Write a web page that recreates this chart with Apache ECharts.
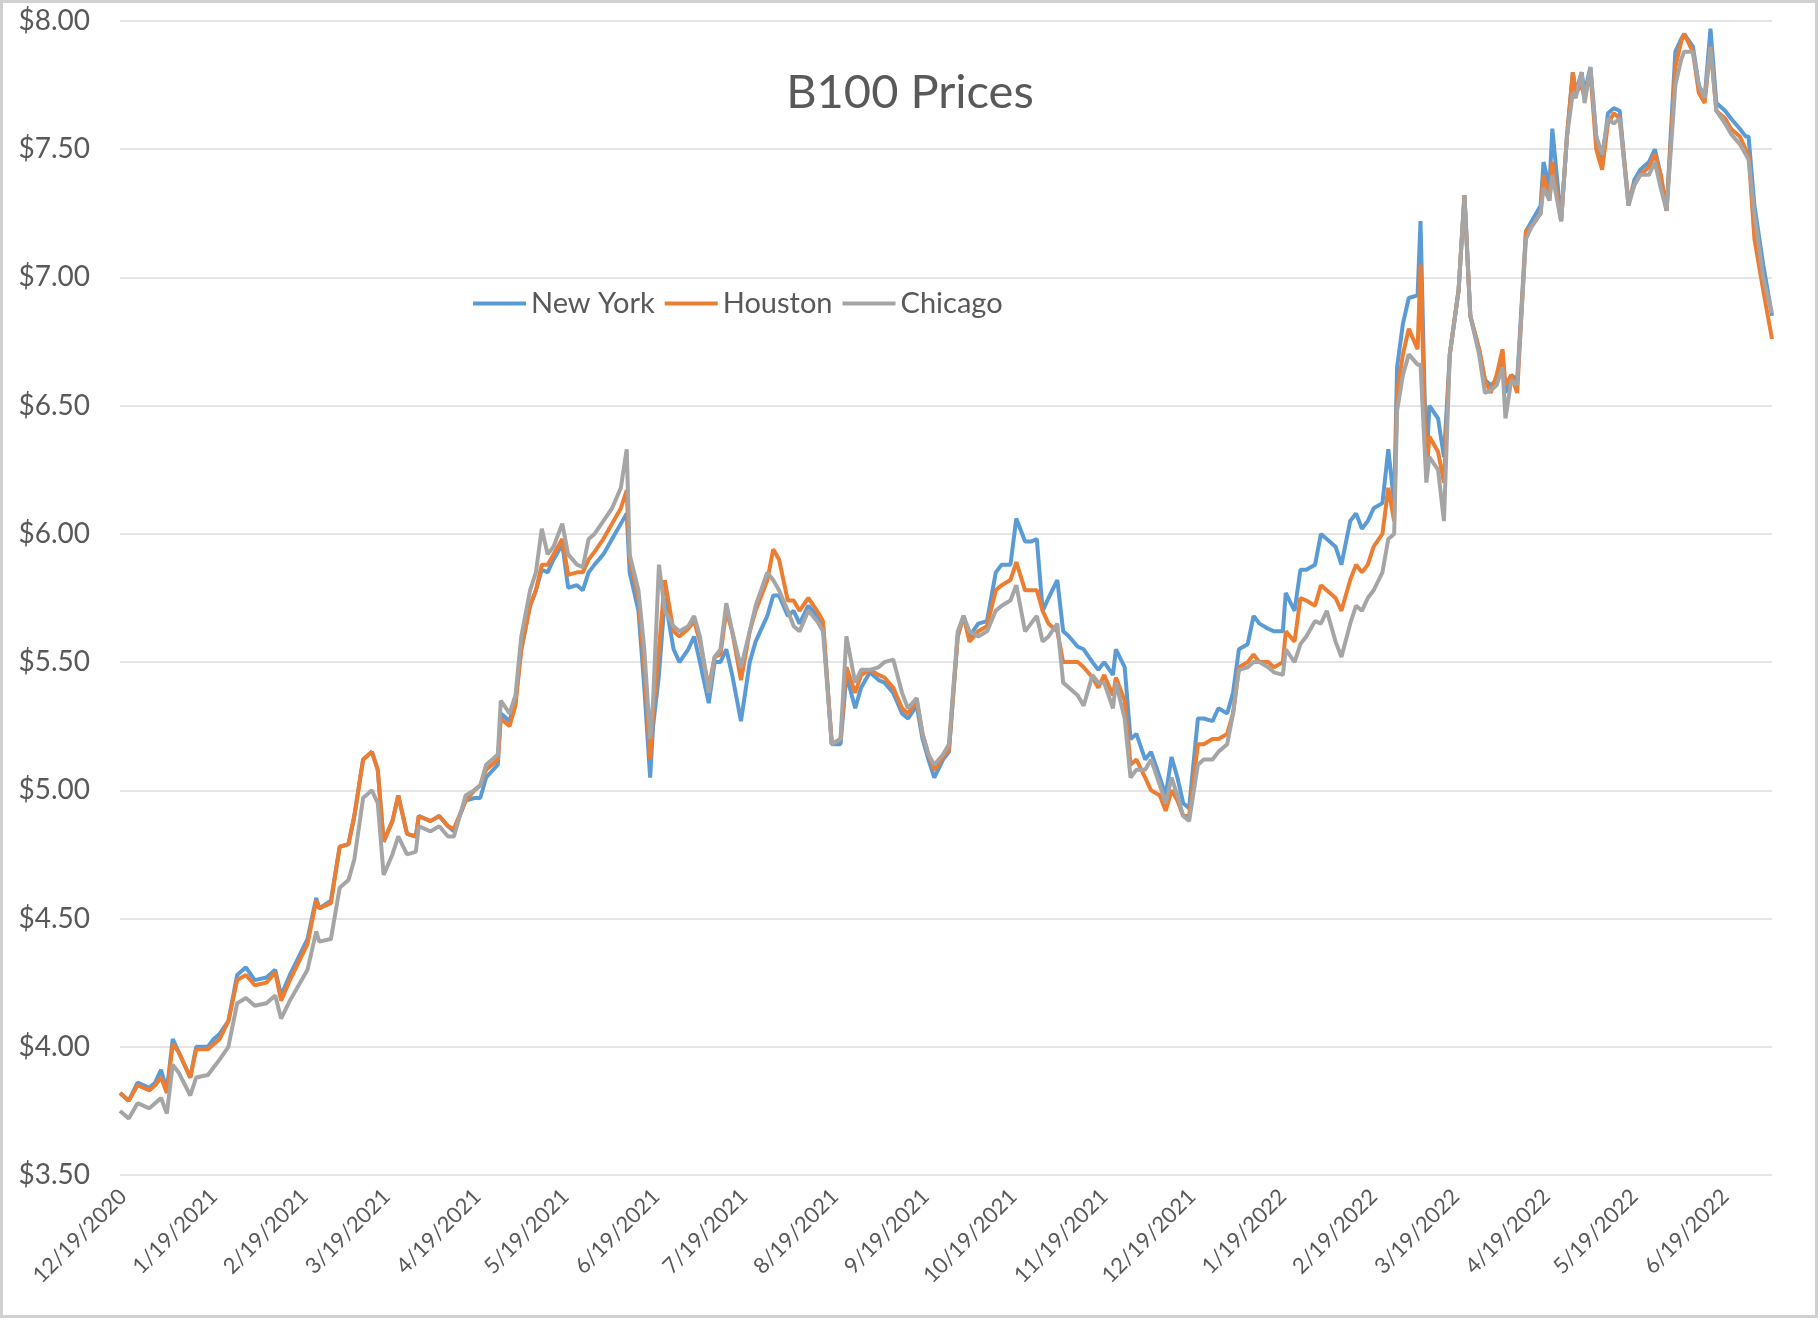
<!DOCTYPE html>
<html>
<head>
<meta charset="utf-8">
<title>B100 Prices</title>
<script src="https://cdn.jsdelivr.net/npm/echarts@6/dist/echarts.min.js"></script>
<style>
  html, body { margin: 0; padding: 0; background: #fff; }
  #chart { width: 1820px; height: 1320px; }
</style>
</head>
<body>
<div id="chart"></div>
<script>
// B100 price data ($/gal)
var dates = [
  '2020-12-18','2020-12-21','2020-12-24','2020-12-28','2020-12-30','2021-01-01','2021-01-03','2021-01-05','2021-01-07','2021-01-11',
  '2021-01-13','2021-01-17','2021-01-19','2021-01-21','2021-01-24','2021-01-27','2021-01-30','2021-02-02','2021-02-06','2021-02-09',
  '2021-02-11','2021-02-14','2021-02-17','2021-02-20','2021-02-23','2021-02-24','2021-02-28','2021-03-03','2021-03-06','2021-03-08',
  '2021-03-11','2021-03-14','2021-03-16','2021-03-18','2021-03-21','2021-03-23','2021-03-26','2021-03-29','2021-03-30','2021-04-03',
  '2021-04-06','2021-04-09','2021-04-11','2021-04-15','2021-04-18','2021-04-20','2021-04-22','2021-04-26','2021-04-27','2021-04-30',
  '2021-05-02','2021-05-04','2021-05-07','2021-05-09','2021-05-11','2021-05-13','2021-05-15','2021-05-18','2021-05-20','2021-05-23',
  '2021-05-25','2021-05-27','2021-05-29','2021-06-01','2021-06-04','2021-06-07','2021-06-09','2021-06-10','2021-06-13','2021-06-15',
  '2021-06-17','2021-06-18','2021-06-20','2021-06-22','2021-06-25','2021-06-27','2021-06-30','2021-07-02','2021-07-04','2021-07-07',
  '2021-07-09','2021-07-11','2021-07-13','2021-07-15','2021-07-18','2021-07-21','2021-07-23','2021-07-27','2021-07-29','2021-07-31',
  '2021-08-03','2021-08-05','2021-08-07','2021-08-10','2021-08-13','2021-08-15','2021-08-18','2021-08-21','2021-08-23','2021-08-26',
  '2021-08-28','2021-08-31','2021-09-03','2021-09-05','2021-09-08','2021-09-11','2021-09-13','2021-09-16','2021-09-18','2021-09-20',
  '2021-09-22','2021-09-25','2021-09-27','2021-09-30','2021-10-02','2021-10-04','2021-10-07','2021-10-10','2021-10-13','2021-10-15',
  '2021-10-18','2021-10-20','2021-10-23','2021-10-25','2021-10-27','2021-10-29','2021-10-31','2021-11-03','2021-11-05','2021-11-07',
  '2021-11-10','2021-11-12','2021-11-15','2021-11-17','2021-11-19','2021-11-22','2021-11-23','2021-11-26','2021-11-28','2021-11-30',
  '2021-12-03','2021-12-05','2021-12-08','2021-12-10','2021-12-12','2021-12-14','2021-12-16','2021-12-18','2021-12-21','2021-12-23',
  '2021-12-26','2021-12-28','2021-12-31','2022-01-02','2022-01-04','2022-01-07','2022-01-09','2022-01-11','2022-01-14','2022-01-16',
  '2022-01-19','2022-01-20','2022-01-23','2022-01-25','2022-01-27','2022-01-30','2022-02-01','2022-02-03','2022-02-06','2022-02-08',
  '2022-02-11','2022-02-13','2022-02-15','2022-02-17','2022-02-19','2022-02-22','2022-02-24','2022-02-26','2022-02-27','2022-03-01',
  '2022-03-03','2022-03-06','2022-03-07','2022-03-09','2022-03-10','2022-03-13','2022-03-15','2022-03-17','2022-03-20','2022-03-22',
  '2022-03-24','2022-03-27','2022-03-29','2022-03-31','2022-04-02','2022-04-04','2022-04-05','2022-04-07','2022-04-09','2022-04-12',
  '2022-04-14','2022-04-17','2022-04-18','2022-04-20','2022-04-21','2022-04-24','2022-04-26','2022-04-28','2022-04-29','2022-05-01',
  '2022-05-02','2022-05-04','2022-05-06','2022-05-08','2022-05-10','2022-05-12','2022-05-14','2022-05-17','2022-05-19','2022-05-21',
  '2022-05-24','2022-05-26','2022-05-28','2022-05-30','2022-06-02','2022-06-04','2022-06-05','2022-06-08','2022-06-10','2022-06-12',
  '2022-06-14','2022-06-16','2022-06-19','2022-06-21','2022-06-24','2022-06-26','2022-06-27','2022-06-29','2022-07-02','2022-07-05'
];

var newYork = [
  3.82,3.79,3.86,3.84,3.86,3.91,3.83,4.03,3.98,3.88,
  4.00,4.00,4.03,4.05,4.10,4.28,4.31,4.26,4.27,4.30,
  4.20,4.28,4.35,4.42,4.58,4.54,4.57,4.78,4.79,4.90,
  5.12,5.15,5.08,4.80,4.88,4.98,4.83,4.82,4.90,4.88,
  4.90,4.86,4.84,4.96,4.97,4.97,5.05,5.10,5.30,5.27,
  5.35,5.55,5.72,5.78,5.86,5.85,5.90,5.96,5.79,5.80,
  5.78,5.85,5.88,5.92,5.98,6.04,6.08,5.85,5.70,5.40,
  5.05,5.25,5.45,5.75,5.55,5.50,5.55,5.60,5.50,5.34,
  5.50,5.50,5.55,5.45,5.27,5.50,5.58,5.68,5.76,5.76,
  5.68,5.70,5.65,5.72,5.68,5.65,5.18,5.18,5.45,5.32,
  5.40,5.46,5.43,5.42,5.38,5.30,5.28,5.33,5.20,5.12,
  5.05,5.12,5.15,5.60,5.68,5.60,5.65,5.66,5.85,5.88,
  5.88,6.06,5.97,5.97,5.98,5.70,5.75,5.82,5.62,5.60,
  5.56,5.55,5.50,5.47,5.50,5.45,5.55,5.48,5.20,5.22,
  5.12,5.15,5.05,4.98,5.13,5.05,4.95,4.93,5.28,5.28,
  5.27,5.32,5.30,5.38,5.55,5.57,5.68,5.65,5.63,5.62,
  5.62,5.77,5.70,5.86,5.86,5.88,6.00,5.98,5.95,5.88,
  6.05,6.08,6.02,6.05,6.10,6.12,6.33,6.12,6.65,6.82,
  6.92,6.93,7.22,6.25,6.50,6.45,6.30,6.70,6.95,7.32,
  6.85,6.72,6.60,6.58,6.60,6.68,6.55,6.62,6.60,7.18,
  7.22,7.28,7.45,7.35,7.58,7.22,7.55,7.80,7.72,7.80,
  7.72,7.82,7.55,7.45,7.64,7.66,7.65,7.28,7.38,7.42,
  7.45,7.50,7.40,7.26,7.88,7.93,7.95,7.90,7.75,7.70,
  7.97,7.68,7.65,7.62,7.58,7.55,7.55,7.28,7.05,6.85
];

var houston = [
  3.82,3.79,3.85,3.83,3.85,3.88,3.82,4.01,3.98,3.88,
  3.99,3.99,4.01,4.03,4.10,4.26,4.28,4.24,4.25,4.29,
  4.18,4.26,4.33,4.40,4.57,4.54,4.56,4.78,4.79,4.90,
  5.12,5.15,5.08,4.80,4.88,4.98,4.83,4.82,4.90,4.88,
  4.90,4.86,4.85,4.96,5.00,5.02,5.08,5.12,5.28,5.25,
  5.33,5.55,5.72,5.78,5.88,5.88,5.92,5.98,5.84,5.85,
  5.85,5.90,5.93,5.98,6.04,6.10,6.17,5.90,5.75,5.48,
  5.12,5.30,5.55,5.82,5.62,5.60,5.63,5.66,5.58,5.40,
  5.52,5.53,5.70,5.62,5.43,5.62,5.70,5.82,5.94,5.90,
  5.74,5.74,5.70,5.75,5.70,5.66,5.18,5.20,5.48,5.38,
  5.45,5.47,5.45,5.44,5.40,5.32,5.30,5.35,5.22,5.14,
  5.08,5.13,5.16,5.60,5.68,5.58,5.62,5.64,5.78,5.80,
  5.82,5.89,5.78,5.78,5.78,5.70,5.65,5.62,5.50,5.50,
  5.50,5.48,5.44,5.40,5.45,5.37,5.44,5.35,5.10,5.12,
  5.05,5.00,4.98,4.92,5.00,4.96,4.90,4.90,5.18,5.18,
  5.20,5.20,5.22,5.30,5.48,5.50,5.53,5.50,5.50,5.48,
  5.50,5.62,5.58,5.75,5.74,5.72,5.80,5.78,5.75,5.70,
  5.82,5.88,5.85,5.88,5.95,6.00,6.18,6.05,6.55,6.70,
  6.80,6.72,7.05,6.22,6.38,6.32,6.20,6.70,6.95,7.32,
  6.85,6.72,6.60,6.55,6.62,6.72,6.58,6.62,6.55,7.18,
  7.20,7.25,7.40,7.30,7.45,7.22,7.55,7.80,7.72,7.75,
  7.70,7.80,7.50,7.42,7.60,7.64,7.62,7.30,7.36,7.40,
  7.43,7.48,7.40,7.26,7.82,7.92,7.95,7.88,7.72,7.68,
  7.90,7.65,7.62,7.58,7.55,7.50,7.48,7.15,6.95,6.76
];

var chicago = [
  3.75,3.72,3.78,3.76,3.78,3.80,3.74,3.93,3.90,3.81,
  3.88,3.89,3.92,3.95,4.00,4.17,4.19,4.16,4.17,4.20,
  4.11,4.18,4.24,4.30,4.45,4.41,4.42,4.62,4.65,4.73,
  4.97,5.00,4.95,4.67,4.75,4.82,4.75,4.76,4.86,4.84,
  4.86,4.82,4.82,4.98,5.00,5.02,5.10,5.14,5.35,5.30,
  5.37,5.60,5.78,5.85,6.02,5.92,5.95,6.04,5.92,5.88,
  5.87,5.98,6.00,6.05,6.10,6.18,6.33,5.92,5.78,5.55,
  5.20,5.35,5.88,5.70,5.64,5.62,5.64,5.68,5.60,5.38,
  5.52,5.55,5.73,5.62,5.48,5.62,5.72,5.85,5.82,5.78,
  5.70,5.64,5.62,5.70,5.66,5.62,5.18,5.20,5.60,5.42,
  5.47,5.47,5.48,5.50,5.51,5.38,5.32,5.36,5.22,5.14,
  5.10,5.14,5.18,5.62,5.68,5.62,5.60,5.62,5.70,5.72,
  5.74,5.80,5.62,5.65,5.68,5.58,5.60,5.65,5.42,5.40,
  5.37,5.33,5.45,5.42,5.42,5.32,5.42,5.28,5.05,5.08,
  5.08,5.12,5.02,4.95,5.05,4.98,4.90,4.88,5.10,5.12,
  5.12,5.15,5.18,5.30,5.47,5.48,5.50,5.50,5.48,5.46,
  5.45,5.55,5.50,5.57,5.60,5.66,5.65,5.70,5.58,5.52,
  5.65,5.72,5.70,5.75,5.78,5.85,5.98,6.00,6.48,6.62,
  6.70,6.66,6.66,6.20,6.30,6.25,6.05,6.70,6.95,7.32,
  6.85,6.70,6.55,6.56,6.58,6.65,6.45,6.60,6.58,7.15,
  7.20,7.25,7.35,7.30,7.40,7.22,7.55,7.72,7.70,7.80,
  7.68,7.82,7.55,7.48,7.62,7.60,7.62,7.28,7.36,7.40,
  7.40,7.45,7.35,7.26,7.75,7.85,7.88,7.88,7.75,7.70,
  7.90,7.65,7.60,7.56,7.52,7.48,7.46,7.25,7.00,6.86
];

var xTickLabels = [
  '12/19/2020','1/19/2021','2/19/2021','3/19/2021','4/19/2021','5/19/2021','6/19/2021',
  '7/19/2021','8/19/2021','9/19/2021','10/19/2021','11/19/2021','12/19/2021','1/19/2022',
  '2/19/2022','3/19/2022','4/19/2022','5/19/2022','6/19/2022'
];

var DAY = 86400000;
// dates are turned into whole day numbers so the x axis can be a plain value axis
function isoDay(s) {
  var p = s.split('-');
  return Math.round(Date.UTC(+p[0], +p[1] - 1, +p[2]) / DAY);
}
function mdyDay(s) {
  var p = s.split('/');
  return Math.round(Date.UTC(+p[2], +p[0] - 1, +p[1]) / DAY);
}
function dayLabel(n) {
  var d = new Date(n * DAY);
  return (d.getUTCMonth() + 1) + '/' + d.getUTCDate() + '/' + d.getUTCFullYear();
}
function pairs(values) {
  return dates.map(function (d, i) { return [isoDay(d), values[i]]; });
}

var font = 'Lato, "Open Sans", sans-serif';
var textColor = '#595959';

var chart = echarts.init(document.getElementById('chart'));

chart.setOption({
  animation: false,
  backgroundColor: '#fff',
  title: {
    text: 'B100 Prices',
    left: 'center',
    top: 64,
    textStyle: { fontFamily: font, fontSize: 47, fontWeight: 'normal', color: textColor }
  },
  legend: {
    left: 468,
    top: 284,
    icon: 'rect',
    itemWidth: 53,
    itemHeight: 4,
    itemGap: 10,
    textStyle: { fontFamily: font, fontSize: 29, color: textColor },
    data: ['New York', 'Houston', 'Chicago']
  },
  graphic: [{
    type: 'rect',
    shape: { x: 1.5, y: 1.5, width: 1815, height: 1315 },
    style: { fill: 'none', stroke: '#d0d0d0', lineWidth: 3 },
    silent: true
  }],
  grid: {
    left: 120,
    right: 48,
    top: 21,
    bottom: 145
  },
  xAxis: {
    type: 'value',
    min: isoDay(dates[0]),
    max: isoDay(dates[dates.length - 1]),
    axisLine: { show: false },
    axisTick: { show: false },
    splitLine: { show: false },
    axisLabel: {
      customValues: xTickLabels.map(mdyDay),
      rotate: 45,
      margin: 18,
      fontFamily: font,
      fontSize: 22,
      color: textColor,
      formatter: dayLabel
    }
  },
  yAxis: {
    type: 'value',
    min: 3.5,
    max: 8,
    interval: 0.5,
    axisLine: { show: false },
    axisTick: { show: false },
    splitLine: { lineStyle: { color: '#dcdcdc', width: 1.5 } },
    axisLabel: {
      margin: 30,
      fontFamily: font,
      fontSize: 28,
      color: textColor,
      formatter: function (v) { return '$' + v.toFixed(2); }
    }
  },
  series: [
    { name: 'New York', type: 'line', symbol: 'none', data: pairs(newYork),
      itemStyle: { color: '#5b9bd5' }, lineStyle: { color: '#5b9bd5', width: 4 } },
    { name: 'Houston', type: 'line', symbol: 'none', data: pairs(houston),
      itemStyle: { color: '#ed7d31' }, lineStyle: { color: '#ed7d31', width: 4 } },
    { name: 'Chicago', type: 'line', symbol: 'none', data: pairs(chicago),
      itemStyle: { color: '#a5a5a5' }, lineStyle: { color: '#a5a5a5', width: 4 } }
  ]
});
</script>
</body>
</html>
